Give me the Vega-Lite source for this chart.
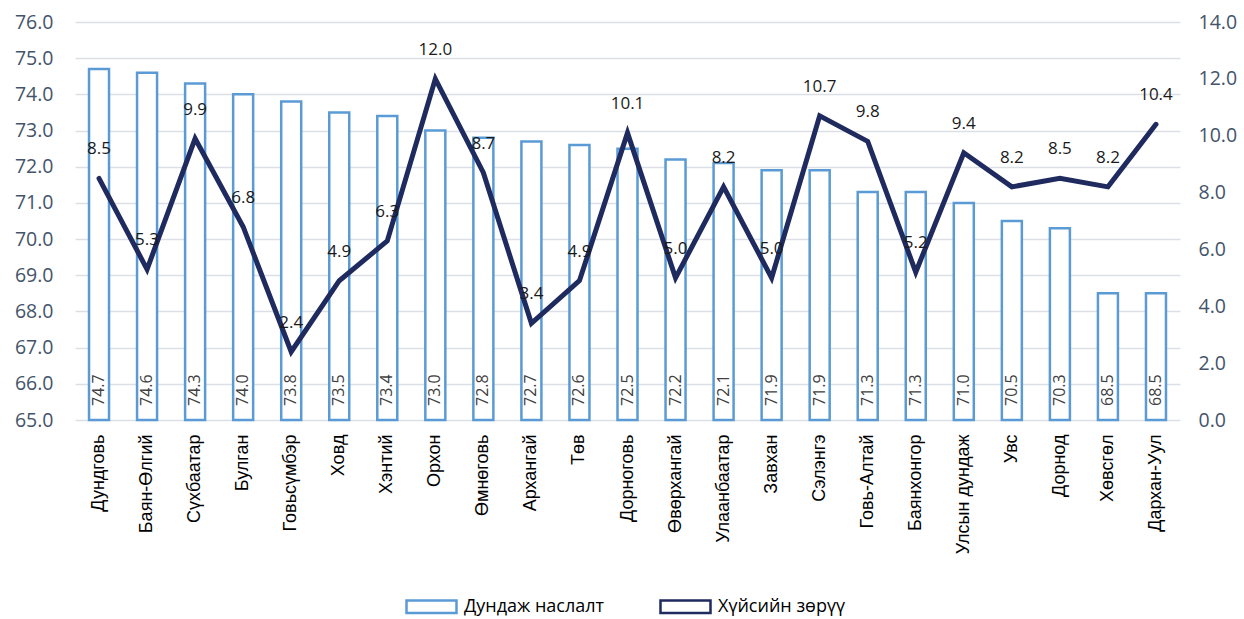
{
  "$schema": "https://vega.github.io/schema/vega-lite/v6.json",
  "width": 1105,
  "height": 398,
  "autosize": {"type": "none"},
  "padding": {"left": 75, "top": 22, "right": 64, "bottom": 199},
  "background": "white",
  "config": {"view": {"stroke": null}},
  "data": {"values": [
    {"aimag": "Дундговь", "avg": 74.7, "gap": 8.5},
    {"aimag": "Баян-Өлгий", "avg": 74.6, "gap": 5.3},
    {"aimag": "Сүхбаатар", "avg": 74.3, "gap": 9.9},
    {"aimag": "Булган", "avg": 74.0, "gap": 6.8},
    {"aimag": "Говьсүмбэр", "avg": 73.8, "gap": 2.4},
    {"aimag": "Ховд", "avg": 73.5, "gap": 4.9},
    {"aimag": "Хэнтий", "avg": 73.4, "gap": 6.3},
    {"aimag": "Орхон", "avg": 73.0, "gap": 12.0},
    {"aimag": "Өмнөговь", "avg": 72.8, "gap": 8.7},
    {"aimag": "Архангай", "avg": 72.7, "gap": 3.4},
    {"aimag": "Төв", "avg": 72.6, "gap": 4.9},
    {"aimag": "Дорноговь", "avg": 72.5, "gap": 10.1},
    {"aimag": "Өвөрхангай", "avg": 72.2, "gap": 5.0},
    {"aimag": "Улаанбаатар", "avg": 72.1, "gap": 8.2},
    {"aimag": "Завхан", "avg": 71.9, "gap": 5.0},
    {"aimag": "Сэлэнгэ", "avg": 71.9, "gap": 10.7},
    {"aimag": "Говь-Алтай", "avg": 71.3, "gap": 9.8},
    {"aimag": "Баянхонгор", "avg": 71.3, "gap": 5.2},
    {"aimag": "Улсын дундаж", "avg": 71.0, "gap": 9.4},
    {"aimag": "Увс", "avg": 70.5, "gap": 8.2},
    {"aimag": "Дорнод", "avg": 70.3, "gap": 8.5},
    {"aimag": "Хөвсгөл", "avg": 68.5, "gap": 8.2},
    {"aimag": "Дархан-Уул", "avg": 68.5, "gap": 10.4}
  ]},
  "encoding": {
    "x": {
      "field": "aimag", "type": "nominal", "sort": null,
      "scale": {"paddingInner": 0.58, "paddingOuter": 0.29},
      "axis": {
        "title": null, "labelAngle": 270, "labelFont": "Liberation Sans", "labelFontSize": 18,
        "labelColor": "#000000", "ticks": false, "domain": false, "labelPadding": 14,
        "labelLimit": 200
      }
    }
  },
  "layer": [
    {
      "layer": [
        {
          "mark": {"type": "bar", "fill": "white", "strokeWidth": 2.5, "size": 20},
          "encoding": {
            "y": {
              "field": "avg", "type": "quantitative",
              "scale": {"domain": [65, 76], "zero": false, "nice": false},
              "axis": {
                "title": null, "values": [65, 66, 67, 68, 69, 70, 71, 72, 73, 74, 75, 76],
                "format": ".1f", "labelFont": "Open Sans", "labelFontSize": 19.5, "labelColor": "#44546A",
                "ticks": false, "domain": false, "labelPadding": 22, "labelOverlap": false,
                "grid": true, "gridColor": "#DCE0E6", "gridWidth": 1.5
              }
            },
            "y2": {"datum": 65},
            "stroke": {
              "datum": "Дундаж наслалт", "type": "nominal",
              "scale": {"domain": ["Дундаж наслалт", "Хүйсийн зөрүү"], "range": ["#5B9BD5", "#1F2A5E"]},
              "legend": {
                "title": null, "orient": "none", "legendX": 330, "legendY": 558, "direction": "horizontal",
                "labelFont": "Open Sans", "labelFontSize": 18, "labelColor": "#000000",
                "columnPadding": 50, "symbolSize": 2500, "labelOffset": 6,
                "symbolType": "M-1,-0.25H1V0.25H-1Z",
                "symbolStrokeWidth": 2.5,
                "encode": {
                  "symbols": {
                    "update": {
                      "shape": [
                        {"test": "datum.value === 'Дундаж наслалт'", "value": "M-1,-0.25H1V0.25H-1Z"},
                        {"value": "M-1,0H1"}
                      ],
                      "fill": [
                        {"test": "datum.value === 'Дундаж наслалт'", "value": "white"},
                        {"value": "transparent"}
                      ],
                      "strokeWidth": [
                        {"test": "datum.value === 'Дундаж наслалт'", "value": 2.5},
                        {"value": 5}
                      ],
                      "strokeCap": {"value": "round"}
                    }
                  }
                }
              }
            }
          }
        },
        {
          "mark": {"type": "text", "angle": 270, "align": "left", "baseline": "middle", "dx": 14,
                   "font": "Open Sans", "fontSize": 16, "color": "#404040"},
          "encoding": {
            "y": {
              "datum": 65, "type": "quantitative",
              "axis": {
                "title": null, "values": [65, 66, 67, 68, 69, 70, 71, 72, 73, 74, 75, 76],
                "format": ".1f", "labelFont": "Open Sans", "labelFontSize": 19.5, "labelColor": "#44546A",
                "ticks": false, "domain": false, "labelPadding": 22, "labelOverlap": false,
                "grid": true, "gridColor": "#DCE0E6", "gridWidth": 1.5
              }
            },
            "text": {"field": "avg", "type": "quantitative", "format": ".1f"}
          }
        }
      ]
    },
    {
      "layer": [
        {
          "mark": {"type": "line", "strokeWidth": 5, "strokeJoin": "miter", "strokeCap": "round"},
          "encoding": {
            "y": {
              "field": "gap", "type": "quantitative",
              "scale": {"domain": [0, 14], "nice": false},
              "axis": {
                "title": null, "orient": "right", "values": [0, 2, 4, 6, 8, 10, 12, 14],
                "format": ".1f", "labelFont": "Open Sans", "labelFontSize": 19.5, "labelColor": "#44546A",
                "ticks": false, "domain": false, "labelPadding": 18, "grid": false, "labelOverlap": false
              }
            },
            "stroke": {"datum": "Хүйсийн зөрүү", "type": "nominal"}
          }
        },
        {
          "mark": {"type": "text", "align": "center", "baseline": "bottom", "dy": -20,
                   "font": "Open Sans", "fontSize": 17, "color": "#1a1a1a"},
          "encoding": {
            "y": {"field": "gap", "type": "quantitative"},
            "text": {"field": "gap", "type": "quantitative", "format": ".1f"}
          }
        }
      ]
    }
  ],
  "resolve": {"scale": {"y": "independent"}}
}
